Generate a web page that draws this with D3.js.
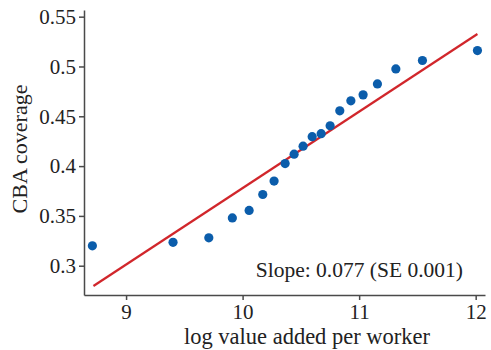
<!DOCTYPE html>
<html>
<head>
<meta charset="utf-8">
<script src="https://cdn.jsdelivr.net/npm/d3@7"></script>
<style>
  body { margin: 0; background: #fff; }
  text { font-family: "Liberation Serif", "Times New Roman", serif; fill: #222; }
</style>
</head>
<body>
<div id="chart-area"></div>
<script>
/* Binned scatter: CBA coverage vs log value added per worker */

// binned points
const logVA = [8.711, 9.403, 9.710, 9.912, 10.056, 10.173, 10.270, 10.365, 10.442, 10.519,
               10.597, 10.674, 10.751, 10.834, 10.929, 11.034, 11.157, 11.315, 11.543, 12.015]
const coverage = [0.320, 0.3235, 0.328, 0.348, 0.3555, 0.3715, 0.385, 0.4025, 0.412, 0.420,
                  0.4295, 0.4325, 0.4405, 0.4555, 0.4655, 0.4715, 0.4825, 0.4975, 0.506, 0.516]

// fitted line end points
const fitX = [8.72, 12.015]
const fitY = [0.2796, 0.5326]

const xTicks = [9, 10, 11, 12]
const yTicks = [0.3, 0.35, 0.4, 0.45, 0.5, 0.55]
const yTickLabels = ["0.3", "0.35", "0.4", "0.45", "0.5", "0.55"]
const slopeLabel = "Slope: 0.077 (SE 0.001)"

const data = logVA.map((d, i) => ({ x: d, y: coverage[i] }))
const fit = fitX.map((d, i) => ({ x: d, y: fitY[i] }))

const W = 491, H = 350
const MARGIN = { LEFT: 84, RIGHT: 6, TOP: 10, BOTTOM: 55 }

const svg = d3.select("#chart-area").append("svg")
    .attr("width", W)
    .attr("height", H)

// scales
const x = d3.scaleLinear()
    .domain([8.639, 12.08])
    .range([MARGIN.LEFT, W - MARGIN.RIGHT])

const y = d3.scaleLinear()
    .domain([0.2706, 0.5567])
    .range([H - MARGIN.BOTTOM, MARGIN.TOP])

// axes
svg.append("g")
    .attr("transform", `translate(0,${H - MARGIN.BOTTOM})`)
    .call(d3.axisBottom(x).tickValues(xTicks).tickFormat(d3.format("d"))
        .tickSize(5).tickPadding(4).tickSizeOuter(0))

svg.append("g")
    .attr("transform", `translate(${MARGIN.LEFT},0)`)
    .call(d3.axisLeft(y).tickValues(yTicks).tickFormat((d, i) => yTickLabels[i])
        .tickSize(5).tickPadding(3).tickSizeOuter(0))

svg.selectAll(".domain, .tick line")
    .attr("stroke", "#4a4a4a")
    .attr("stroke-width", 1.5)

svg.selectAll(".tick text")
    .style("font-family", '"Liberation Serif", serif')
    .style("font-size", "21px")
    .attr("fill", "#222")

// axis titles
svg.append("text")
    .attr("x", 307)
    .attr("y", 344)
    .attr("text-anchor", "middle")
    .style("font-size", "22.5px")
    .text("log value added per worker")

svg.append("text")
    .attr("transform", "translate(27,149) rotate(-90)")
    .attr("text-anchor", "middle")
    .style("font-size", "22px")
    .text("CBA coverage")

// fitted line
svg.append("path")
    .datum(fit)
    .attr("fill", "none")
    .attr("stroke", "#d1262b")
    .attr("stroke-width", 2.2)
    .attr("d", d3.line().x(d => x(d.x)).y(d => y(d.y)))

// points
svg.selectAll("circle")
    .data(data)
    .enter().append("circle")
    .attr("cx", d => x(d.x))
    .attr("cy", d => y(d.y))
    .attr("r", 4.6)
    .attr("fill", "#0b5dab")

svg.append("text")
    .attr("x", 463)
    .attr("y", 277)
    .attr("text-anchor", "end")
    .style("font-size", "21.5px")
    .text(slopeLabel)
</script>
</body>
</html>
